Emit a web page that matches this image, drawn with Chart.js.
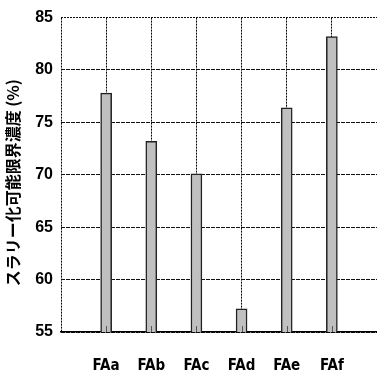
<!DOCTYPE html>
<html>
<head>
    <title>スラリー化可能限界濃度</title>
    <script src="https://cdn.jsdelivr.net/npm/chart.js"></script>
    <style>
        body { margin: 0; padding: 0; background: #fff; }
        #wrap { width: 377px; height: 376px; }
    </style>
</head>
<body>
    <div id="wrap"><canvas id="chart"></canvas></div>

    <script>
        // categories (empty slots at both ends keep the axis spacing)
        const labels = ['', 'FAa', 'FAb', 'FAc', 'FAd', 'FAe', 'FAf', ''];
        const values = [null, 77.8, 73.2, 70.1, 57.2, 76.4, 83.2, null];
        const yMin = 55, yMax = 85, yStep = 5;
        const yTitle = 'スラリー化可能限界濃度 (%)\u3000';

        // small inward tick marks on the bottom axis
        const innerTicks = {
            id: 'innerTicks',
            afterDatasetsDraw(chart) {
                const x = chart.scales.x, c = chart.ctx;
                const bottom = chart.chartArea.bottom;
                c.save();
                c.strokeStyle = '#555';
                c.lineWidth = 1;
                for (let i = 1; i < labels.length - 1; i++) {
                    const px = Math.round(x.getPixelForValue(i)) + 0.5;
                    c.beginPath();
                    c.moveTo(px, bottom);
                    c.lineTo(px, bottom - 6);
                    c.stroke();
                }
                c.restore();
            }
        };

        new Chart(document.getElementById('chart'), {
            type: 'bar',
            data: {
                labels: labels,
                datasets: [{
                    data: values,
                    backgroundColor: '#c0c0c0',
                    borderColor: '#222',
                    borderWidth: 1.5,
                    barThickness: 11
                }]
            },
            options: {
                animation: false,
                responsive: true,
                maintainAspectRatio: false,
                layout: { padding: { top: 15, right: 0, left: 0, bottom: 0 } },
                plugins: { legend: { display: false }, tooltip: { enabled: false } },
                scales: {
                    x: {
                        offset: false,
                        grid: {
                            offset: false,
                            color: '#000',
                            lineWidth: 1,
                            drawTicks: false
                        },
                        border: { display: true, color: '#000', width: 1.5, dash: [2, 1] },
                        ticks: {
                            color: '#000',
                            padding: 25,
                            maxRotation: 0,
                            autoSkip: false,
                            font: { family: '"DejaVu Sans Condensed", "Liberation Sans Narrow", sans-serif', size: 15, weight: 'bold' }
                        },
                        afterFit(s) {
                            s.height = 44;
                            s.paddingLeft = 0;
                            s.paddingRight = 0;
                        }
                    },
                    y: {
                        min: yMin,
                        max: yMax,
                        ticks: {
                            stepSize: yStep,
                            color: '#000',
                            padding: 8,
                            font: { family: 'Arial, "Liberation Sans", sans-serif', size: 16, weight: 'bold' }
                        },
                        grid: {
                            color: '#111',
                            lineWidth: 1,
                            drawTicks: false
                        },
                        border: {
                            display: false,
                            dash: (ctx) => (ctx.tick && ctx.tick.value === yMax) ? [2, 1] : [4, 1]
                        },
                        title: {
                            display: true,
                            text: yTitle,
                            color: '#000',
                            padding: { top: 3, bottom: 2 },
                            font: { family: '"Noto Sans CJK JP", sans-serif', size: 16, weight: 'bold' }
                        },
                        afterFit(s) { s.width = 61; }
                    }
                }
            },
            plugins: [innerTicks]
        });
    </script>
</body>
</html>
